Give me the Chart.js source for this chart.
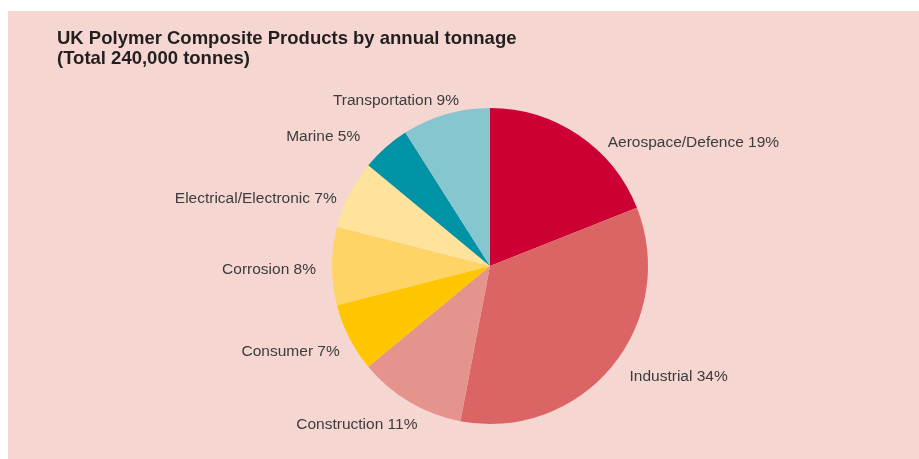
<!DOCTYPE html>
<html>
<head>
<meta charset="utf-8">
<script src="https://cdn.jsdelivr.net/npm/chart.js@4.4.1/dist/chart.umd.min.js"></script>
<style>
  html, body { margin: 0; padding: 0; background: #ffffff; overflow: hidden; }
  #wrap { position: absolute; left: 0; top: 0; width: 923px; height: 459px; }
</style>
</head>
<body>
<div id="wrap"><canvas id="c" width="923" height="459"></canvas></div>
<script>
const categories = ["Aerospace/Defence", "Industrial", "Construction", "Consumer", "Corrosion", "Electrical/Electronic", "Marine", "Transportation"];
const shares = [19, 34, 11, 7, 8, 7, 5, 9];
const sliceColors = ["#cc0033", "#db6565", "#e4948c", "#ffc600", "#ffd466", "#ffe29c", "#0093a6", "#85c6cf"];
const titleLines = ["UK Polymer Composite Products by annual tonnage", "(Total 240,000 tonnes)"];

// label placement: text alignment and small nudges relative to the slice's mid-angle anchor
const labelAlign = ["left", "left", "right", "right", "right", "right", "right", "right"];
const labelNudge = [[21, 19], [7, 1], [15, 11], [3, 8], [-2, 4], [0, 11], [-16, 0], [17, 0]];

const bgPlugin = {
  id: 'bgPanel',
  beforeDraw(chart) {
    const ctx = chart.ctx;
    ctx.save();
    ctx.fillStyle = '#f5d6d1';
    ctx.fillRect(8, 11, chart.width - 8, chart.height - 11);
    ctx.restore();
  }
};

const labelPlugin = {
  id: 'sliceLabels',
  afterDatasetsDraw(chart) {
    const ctx = chart.ctx;
    const meta = chart.getDatasetMeta(0);
    ctx.save();
    ctx.font = '15.5px "Liberation Sans", Arial, sans-serif';
    ctx.fillStyle = '#3c3c3c';
    ctx.textBaseline = 'middle';
    meta.data.forEach((arc, i) => {
      const p = arc.getProps(['x', 'y', 'startAngle', 'endAngle', 'outerRadius'], true);
      const mid = (p.startAngle + p.endAngle) / 2;
      const r = p.outerRadius + 14;
      const x = p.x + Math.cos(mid) * r + labelNudge[i][0];
      const y = p.y + Math.sin(mid) * r + labelNudge[i][1];
      ctx.textAlign = labelAlign[i];
      ctx.fillText(categories[i] + ' ' + shares[i] + '%', x, y);
    });
    ctx.restore();
  }
};

new Chart(document.getElementById('c'), {
  type: 'pie',
  data: {
    labels: categories,
    datasets: [{
      data: shares,
      backgroundColor: sliceColors,
      borderWidth: 0,
      radius: 158
    }]
  },
  options: {
    responsive: false,
    animation: false,
    layout: { padding: { left: 57, right: 0, top: 0, bottom: 0 } },
    plugins: {
      legend: { display: false },
      tooltip: { enabled: false },
      title: {
        display: true,
        text: titleLines,
        align: 'start',
        color: '#231f20',
        font: { family: '"Liberation Sans", Arial, sans-serif', size: 18.5, weight: 'bold', lineHeight: 20 / 18.5 },
        padding: { top: 29, bottom: 4 }
      }
    }
  },
  plugins: [bgPlugin, labelPlugin]
});
</script>
</body>
</html>
